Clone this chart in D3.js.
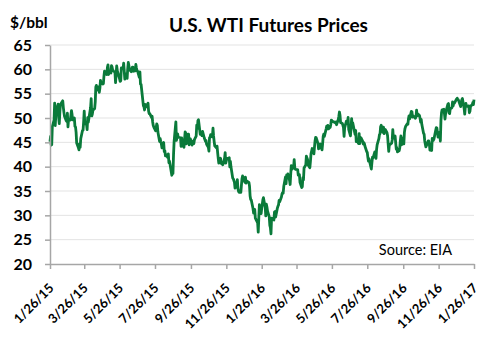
<!DOCTYPE html>
<html><head><meta charset="utf-8">
<script src="https://cdn.jsdelivr.net/npm/d3@7"></script>
<style>
html,body{margin:0;padding:0;background:#fff;}
svg{display:block;font-family:Lato,"Open Sans",sans-serif;}
</style></head>
<body>
<svg id="chart" width="500" height="341"></svg>
<script>
const title = "U.S. WTI Futures Prices";
const unitLabel = "$/bbl";
const sourceLabel = "Source: EIA";
const yTicks = [20,25,30,35,40,45,50,55,60,65];
const xTickDates = ["2015-01-26","2015-03-26","2015-05-26","2015-07-26","2015-09-26","2015-11-26","2016-01-26","2016-03-26","2016-05-26","2016-07-26","2016-09-26","2016-11-26","2017-01-26"];

const dates2015 = ["01-26","01-27","01-28","01-29","01-30",
"02-02","02-03","02-04","02-05","02-06","02-09","02-10","02-11","02-12","02-13","02-17","02-18","02-19","02-20","02-23","02-24","02-25","02-26","02-27",
"03-02","03-03","03-04","03-05","03-06","03-09","03-10","03-11","03-12","03-13","03-16","03-17","03-18","03-19","03-20","03-23","03-24","03-25","03-26","03-27","03-30","03-31",
"04-01","04-02","04-06","04-07","04-08","04-09","04-10","04-13","04-14","04-15","04-16","04-17","04-20","04-21","04-22","04-23","04-24","04-27","04-28","04-29","04-30",
"05-01","05-04","05-05","05-06","05-07","05-08","05-11","05-12","05-13","05-14","05-15","05-18","05-19","05-20","05-21","05-22","05-26","05-27","05-28","05-29",
"06-01","06-02","06-03","06-04","06-05","06-08","06-09","06-10","06-11","06-12","06-15","06-16","06-17","06-18","06-19","06-22","06-23","06-24","06-25","06-26","06-29","06-30",
"07-01","07-02","07-06","07-07","07-08","07-09","07-10","07-13","07-14","07-15","07-16","07-17","07-20","07-21","07-22","07-23","07-24","07-27","07-28","07-29","07-30","07-31",
"08-03","08-04","08-05","08-06","08-07","08-10","08-11","08-12","08-13","08-14","08-17","08-18","08-19","08-20","08-21","08-24","08-25","08-26","08-27","08-28","08-31",
"09-01","09-02","09-03","09-04","09-08","09-09","09-10","09-11","09-14","09-15","09-16","09-17","09-18","09-21","09-22","09-23","09-24","09-25","09-28","09-29","09-30",
"10-01","10-02","10-05","10-06","10-07","10-08","10-09","10-12","10-13","10-14","10-15","10-16","10-19","10-20","10-21","10-22","10-23","10-26","10-27","10-28","10-29","10-30",
"11-02","11-03","11-04","11-05","11-06","11-09","11-10","11-11","11-12","11-13","11-16","11-17","11-18","11-19","11-20","11-23","11-24","11-25","11-27","11-30",
"12-01","12-02","12-03","12-04","12-07","12-08","12-09","12-10","12-11","12-14","12-15","12-16","12-17","12-18","12-21","12-22","12-23","12-24","12-28","12-29","12-30","12-31"];
const prices2015 = [45.15,46.23,44.45,44.53,48.24,
49.57,53.05,48.45,50.48,51.69,52.86,50.02,48.84,51.21,52.78,53.53,52.14,51.16,50.34,49.45,49.27,50.99,48.17,49.76,
49.59,50.52,51.53,50.76,49.61,50.00,48.29,48.17,47.05,44.84,43.88,43.46,44.66,43.96,45.72,47.45,47.51,49.21,51.43,48.87,48.68,47.60,
50.09,49.14,52.14,53.98,50.42,50.79,51.64,51.91,53.29,56.39,56.71,55.74,56.38,55.26,56.16,57.74,57.15,56.99,57.06,58.58,59.63,
59.15,58.93,60.40,60.93,58.94,59.39,59.25,60.75,60.50,59.88,59.69,59.43,57.26,58.98,60.72,59.72,58.03,57.51,57.68,60.30,
60.20,61.26,59.64,58.00,59.13,58.14,60.14,61.43,60.77,59.96,59.52,59.97,60.45,60.45,59.61,59.68,61.01,60.27,59.70,59.63,58.33,59.47,
56.96,56.93,52.53,52.33,51.65,52.78,52.74,52.20,53.04,51.41,50.91,50.89,50.15,50.36,49.19,48.45,48.14,47.39,47.98,48.79,48.52,47.12,
45.17,45.74,45.15,44.66,43.87,44.96,43.08,43.30,42.23,42.50,41.87,42.62,40.80,41.14,40.45,38.24,39.31,38.60,42.56,45.22,49.20,
45.41,46.25,46.75,46.05,45.94,44.15,45.92,44.63,44.00,45.59,47.15,46.90,44.68,46.68,46.66,44.48,45.22,45.70,44.43,45.23,45.09,
44.74,45.54,46.26,48.53,47.81,49.43,49.63,46.66,46.66,46.64,46.38,47.26,45.89,45.55,45.20,45.38,44.60,43.98,43.20,45.94,46.06,46.59,
46.14,47.90,46.32,45.20,44.29,43.87,44.21,42.93,41.75,40.74,41.74,40.67,40.75,40.54,40.39,41.75,42.87,40.71,41.71,41.65,
41.85,39.94,41.08,39.97,37.65,37.51,37.16,36.76,35.62,36.31,37.35,35.52,34.95,34.73,34.74,36.14,37.50,38.10,36.81,37.87,36.60,37.04];

const dates2016 = ["01-04","01-05","01-06","01-07","01-08","01-11","01-12","01-13","01-14","01-15","01-19","01-20","01-21","01-22","01-25","01-26","01-27","01-28","01-29",
"02-01","02-02","02-03","02-04","02-05","02-08","02-09","02-10","02-11","02-12","02-16","02-17","02-18","02-19","02-22","02-23","02-24","02-25","02-26","02-29",
"03-01","03-02","03-03","03-04","03-07","03-08","03-09","03-10","03-11","03-14","03-15","03-16","03-17","03-18","03-21","03-22","03-23","03-24","03-28","03-29","03-30","03-31",
"04-01","04-04","04-05","04-06","04-07","04-08","04-11","04-12","04-13","04-14","04-15","04-18","04-19","04-20","04-21","04-22","04-25","04-26","04-27","04-28","04-29",
"05-02","05-03","05-04","05-05","05-06","05-09","05-10","05-11","05-12","05-13","05-16","05-17","05-18","05-19","05-20","05-23","05-24","05-25","05-26","05-27","05-31",
"06-01","06-02","06-03","06-06","06-07","06-08","06-09","06-10","06-13","06-14","06-15","06-16","06-17","06-20","06-21","06-22","06-23","06-24","06-27","06-28","06-29","06-30",
"07-01","07-05","07-06","07-07","07-08","07-11","07-12","07-13","07-14","07-15","07-18","07-19","07-20","07-21","07-22","07-25","07-26","07-27","07-28","07-29",
"08-01","08-02","08-03","08-04","08-05","08-08","08-09","08-10","08-11","08-12","08-15","08-16","08-17","08-18","08-19","08-22","08-23","08-24","08-25","08-26","08-29","08-30","08-31",
"09-01","09-02","09-06","09-07","09-08","09-09","09-12","09-13","09-14","09-15","09-16","09-19","09-20","09-21","09-22","09-23","09-26","09-27","09-28","09-29","09-30",
"10-03","10-04","10-05","10-06","10-07","10-10","10-11","10-12","10-13","10-14","10-17","10-18","10-19","10-20","10-21","10-24","10-25","10-26","10-27","10-28","10-31",
"11-01","11-02","11-03","11-04","11-07","11-08","11-09","11-10","11-11","11-14","11-15","11-16","11-17","11-18","11-21","11-22","11-23","11-25","11-28","11-29","11-30",
"12-01","12-02","12-05","12-06","12-07","12-08","12-09","12-12","12-13","12-14","12-15","12-16","12-19","12-20","12-21","12-22","12-23","12-27","12-28","12-29","12-30"];
const prices2016 = [36.76,35.97,33.97,33.27,33.16,31.41,30.44,30.48,31.20,29.42,28.46,26.55,29.53,32.19,30.34,31.45,32.30,33.22,33.62,
31.62,29.88,32.28,31.72,30.89,29.69,27.94,27.45,26.21,29.44,29.04,30.66,30.77,29.64,31.48,31.87,32.15,33.07,32.78,33.75,
34.40,34.66,34.57,35.92,37.90,36.50,38.29,37.84,38.50,37.18,36.34,38.46,40.20,39.44,39.91,41.45,39.79,39.46,39.39,38.28,38.32,38.34,
36.79,35.70,35.89,37.75,37.26,39.72,40.36,42.17,41.76,41.50,40.36,39.78,41.08,42.63,43.18,43.73,42.64,44.04,45.33,46.03,45.92,
44.78,43.65,43.78,44.32,44.66,43.44,44.66,46.23,46.70,46.21,47.72,48.31,48.19,48.49,47.75,48.08,48.62,49.56,49.48,49.33,49.10,
49.01,49.17,48.62,49.69,50.36,51.23,50.56,49.07,48.88,48.49,48.01,46.21,47.98,49.37,48.85,49.13,50.11,47.64,46.33,47.85,49.88,48.33,
48.99,46.60,47.43,45.14,45.41,44.76,46.80,44.75,45.68,45.95,45.24,44.65,44.94,44.75,44.19,43.13,42.92,41.92,41.14,41.60,
40.06,39.51,40.83,41.93,41.80,43.02,42.77,41.71,43.49,44.49,45.74,46.58,46.79,48.22,48.52,47.05,48.10,46.77,47.33,47.64,46.98,46.35,44.70,
43.16,44.44,44.83,45.50,47.62,45.88,46.29,44.90,43.58,43.91,43.03,43.30,43.85,45.34,46.32,44.48,45.93,44.67,47.05,47.83,48.24,
48.81,48.69,49.83,50.44,49.81,51.35,51.29,50.18,50.44,50.35,49.94,50.29,51.60,50.43,50.85,50.52,49.96,49.18,49.72,48.70,46.86,
46.67,45.34,44.66,44.07,44.89,45.27,45.27,44.66,43.41,43.32,45.81,45.57,45.42,45.69,47.49,48.03,47.96,46.06,47.08,45.23,49.44,
51.06,51.68,51.79,50.93,49.77,50.84,51.50,52.83,52.98,51.04,50.90,51.90,52.12,53.30,52.49,52.95,53.02,53.90,54.06,53.77,53.72];

const dates2017 = ["01-03","01-04","01-05","01-06","01-09","01-10","01-11","01-12","01-13","01-17","01-18","01-19","01-20","01-23","01-24","01-25","01-26"];
const prices2017 = [52.33,53.26,53.76,53.99,51.96,50.82,52.25,53.01,52.37,52.48,51.08,51.37,52.42,52.75,53.18,52.75,53.78];

const parse = d3.timeParse("%Y-%m-%d");
const series = [];
[[2015,dates2015,prices2015],[2016,dates2016,prices2016],[2017,dates2017,prices2017]].forEach(([yr,ds,ps])=>{
  ds.forEach((d,i)=>series.push({date:parse(yr+"-"+d), value:ps[i]}));
});

const svg = d3.select("#chart");
const x = d3.scaleTime().domain([parse("2015-01-26"), parse("2017-01-26")]).range([50, 474]);
const y = d3.scaleLinear().domain([20, 65]).range([264, 45]);

// gridlines
svg.append("g").selectAll("line").data(yTicks.filter(v=>v>20)).join("line")
  .attr("x1", x.range()[0]).attr("x2", x.range()[1])
  .attr("y1", d=>y(d)).attr("y2", d=>y(d))
  .attr("stroke", "#e3e3e3").attr("stroke-width", 1);

// line
svg.append("path").datum(series)
  .attr("fill","none").attr("stroke","#0a7a3a").attr("stroke-width",2.8)
  .attr("stroke-linejoin","round")
  .attr("d", d3.line().x(d=>x(d.date)).y(d=>y(d.value)));

// y axis
const yAxis = svg.append("g").attr("transform","translate(50,0)")
  .call(d3.axisLeft(y).tickValues(yTicks).tickSize(5).tickPadding(13).tickSizeOuter(0));
yAxis.select(".domain").attr("stroke","#a6a6a6").attr("stroke-width",1.5);
yAxis.selectAll(".tick line").attr("stroke","#a6a6a6").attr("stroke-width",1.5);
yAxis.selectAll(".tick text").attr("font-family","Lato, sans-serif").attr("font-weight","bold")
  .attr("font-size","16px").attr("fill","#000");

// x axis
const fmt = d3.timeFormat("%-m/%-d/%y");
const xAxis = svg.append("g").attr("transform","translate(0,264)")
  .call(d3.axisBottom(x).tickValues(xTickDates.map(parse)).tickFormat(fmt).tickSize(5).tickSizeOuter(0));
xAxis.select(".domain").attr("stroke","#a6a6a6").attr("stroke-width",1.5);
xAxis.selectAll(".tick line").attr("stroke","#a6a6a6").attr("stroke-width",1.5);
xAxis.selectAll(".tick text")
  .attr("font-family","Lato, sans-serif").attr("font-weight","bold").attr("font-size","13px").attr("fill","#000")
  .attr("text-anchor","end").attr("dy",null).attr("y",null)
  .attr("transform","translate(4,25) rotate(-45)");

// title & labels
svg.append("text").attr("x",268.5).attr("y",32).attr("text-anchor","middle")
  .attr("font-weight","bold").attr("font-size","19px").attr("fill","#000").text(title);
svg.append("text").attr("x",10).attr("y",28)
  .attr("font-weight","bold").attr("font-size","15.5px").attr("fill","#000").text(unitLabel);
svg.append("text").attr("x",452).attr("y",255).attr("text-anchor","end")
  .attr("font-size","14.5px").attr("fill","#000").text(sourceLabel);
</script>
</body></html>
